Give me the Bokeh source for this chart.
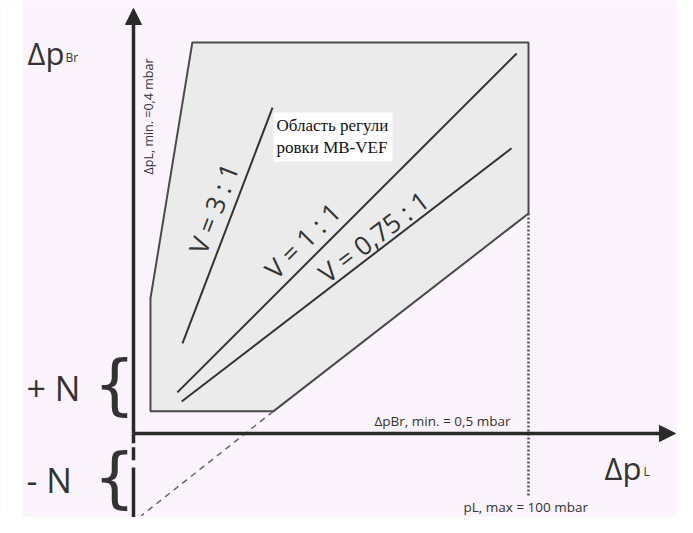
import math
from bokeh.plotting import figure
from bokeh.models import Range1d, Label, Arrow, NormalHead, BoxAnnotation
from bokeh.embed import file_html
from bokeh.resources import INLINE

# ---- data (chart units: ΔpL along x, ΔpBr along y, same scale) ----
region_x = [14.9, 100.0, 100.0, 35.4, 4.3, 4.3]
region_y = [99.0, 99.0, 55.7, 5.6, 5.6, 34.2]

v_labels = ["V = 3 : 1", "V = 1 : 1", "V = 0,75 : 1"]
v_x0 = [12.4, 11.1, 12.2]
v_y0 = [22.8, 10.4, 8.1]
v_x1 = [35.2, 97.0, 95.7]
v_y1 = [82.5, 96.2, 72.2]

pl_max = 100.0          # pL, max = 100 mbar
dotted_bottom = -15.8
ext_x = [35.4, 2.0]     # dashed extension of the lower boundary
ext_y = [5.6, -20.8]

x_axis_end = 137.2
y_axis_end = 107.6
neg_axis_y0 = [0.0, -3.5, -8.6]
neg_axis_y1 = [-2.5, -6.8, -23.3]

W, H = 677, 517
BG = "#fcf4fc"
INK = "#2a2a2a"
FONT = "Open Sans"

p = figure(width=W, height=H,
           x_range=Range1d(-33.67, 137.72), y_range=Range1d(-21.27, 109.62),
           x_axis_type=None, y_axis_type=None,
           output_backend="svg", toolbar_location=None, min_border=0)
p.grid.visible = False
p.outline_line_color = None
p.background_fill_color = BG
p.border_fill_color = BG


def sx(X):
    return X


def sy(Y):
    return H - Y


# white strip at left edge like the scan
p.add_layout(BoxAnnotation(left=0, right=sx(22), left_units="screen", right_units="screen",
                           fill_color="white", fill_alpha=1.0, line_color=None))

# regulating region
p.patch(region_x, region_y, fill_color="#ebebeb", line_color="#4a4a4a", line_width=2)

# ratio lines
p.segment(x0=v_x0, y0=v_y0, x1=v_x1, y1=v_y1, line_color="#333333", line_width=2)

# dotted vertical at pL max
p.segment(x0=[pl_max], y0=[region_y[2]], x1=[pl_max], y1=[dotted_bottom],
          line_color="#555555", line_width=2.5, line_dash="2 2")

# dashed extension
p.line(ext_x, ext_y, line_color="#666666", line_width=1.5, line_dash="6 5")

# axes
p.add_layout(Arrow(end=NormalHead(size=16, fill_color=INK, line_color=INK),
                   x_start=0, y_start=0, x_end=x_axis_end, y_end=0,
                   line_color=INK, line_width=3.5))
p.add_layout(Arrow(end=NormalHead(size=16, fill_color=INK, line_color=INK),
                   x_start=0, y_start=0, x_end=0, y_end=y_axis_end,
                   line_color=INK, line_width=3.5))
p.segment(x0=[0, 0, 0], y0=neg_axis_y0, x1=[0, 0, 0], y1=neg_axis_y1,
          line_color=INK, line_width=3.5)


def lab(text, X, Y, size, font=FONT, align="left", baseline="middle", angle=0.0,
        color="#333333", style="normal"):
    p.add_layout(Label(x=sx(X), y=sy(Y), x_units="screen", y_units="screen", text=text,
                       text_font=font, text_font_size=size, text_color=color,
                       text_align=align, text_baseline=baseline,
                       angle=math.radians(angle), text_font_style=style))


# axis titles (Y = visual centre of the capitals)
lab("Δp", 27, 52, "31px")
lab("Br", 65, 57, "12px")
lab("Δp", 604, 467, "31px")
lab("L", 643, 471, "12px")

# +N / -N with braces
lab("+  N", 26, 387, "34px")
lab("-   N", 26, 479, "34px")
lab("{", 114, 384, "66px", font="DejaVu Sans", align="center")
lab("{", 114, 477, "66px", font="DejaVu Sans", align="center")

# small annotations
lab("ΔpL, min. =0,4 mbar", 148, 174, "12.5px", angle=90)
lab("ΔpBr, min. = 0,5 mbar", 374, 420, "13.5px")
lab("pL, max = 100 mbar", 463, 506, "13.5px")

# region caption with white background
p.add_layout(BoxAnnotation(left=sx(273), right=sx(392), top=sy(112), bottom=sy(161),
                           left_units="screen", right_units="screen",
                           top_units="screen", bottom_units="screen",
                           fill_color="white", fill_alpha=1.0, line_color=None))
lab("Область регули", 276, 125, "17px", font="Liberation Serif", color="#111111")
lab("ровки MB-VEF", 276, 147, "17px", font="Liberation Serif", color="#111111")

# ratio labels along the lines
v_pos = [(213, 208, 69.1), (302, 240, 45.0), (373, 236, 37.5)]
for t, (X, Y, a) in zip(v_labels, v_pos):
    lab(t, X, Y, "26px", align="center", angle=a)

open("out.html", "w").write(file_html(p, INLINE))
